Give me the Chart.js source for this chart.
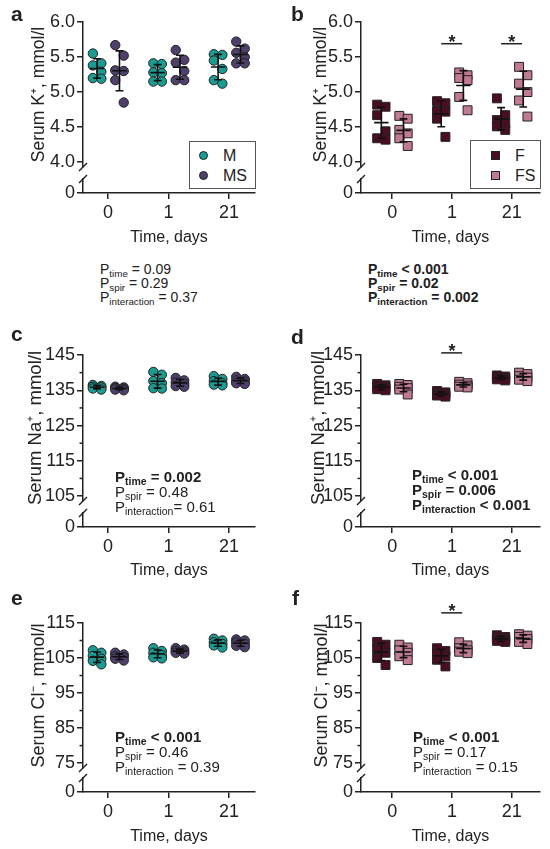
<!DOCTYPE html>
<html>
<head>
<meta charset="utf-8">
<script src="https://cdn.jsdelivr.net/npm/chart.js@4.4.1/dist/chart.umd.min.js"></script>
<style>
  body { margin: 0; background: #fff; font-family: 'Liberation Sans', Arial, sans-serif; color: #222; }
  #fig { position: relative; width: 550px; height: 849px; overflow: hidden; }
  canvas { position: absolute; }
  .lab { position: absolute; font-weight: bold; font-size: 21px; line-height: 21px; }
  .pv { position: absolute; white-space: nowrap; }
  .pv div { height: 1em; }
  .pv sub { font-size: 70%; vertical-align: -0.3em; line-height: 0; }
  .b { font-weight: bold; }
  .leg { position: absolute; border: 1px solid #555; background: #fff; font-size: 16px; }
  .leg span { position: absolute; line-height: 16px; }
  .mk { position: absolute; width: 7px; height: 7px; border: 1px solid #222; }
</style>
</head>
<body>
<div id="fig">
  <canvas id="ca" width="275" height="250" style="left:0;top:0"></canvas>
  <canvas id="cb" width="275" height="250" style="left:275px;top:0"></canvas>
  <canvas id="cc" width="275" height="262" style="left:0;top:320px"></canvas>
  <canvas id="cd" width="275" height="262" style="left:275px;top:320px"></canvas>
  <canvas id="ce" width="275" height="279" style="left:0;top:570px"></canvas>
  <canvas id="cf" width="275" height="279" style="left:275px;top:570px"></canvas>

  <div class="lab" style="left:11px;top:3px">a</div>
  <div class="lab" style="left:291px;top:3px">b</div>
  <div class="lab" style="left:11px;top:323px">c</div>
  <div class="lab" style="left:291px;top:326px">d</div>
  <div class="lab" style="left:11px;top:587px">e</div>
  <div class="lab" style="left:292px;top:587px">f</div>

  <div class="leg" style="left:189px;top:141px;width:65px;height:46px">
    <div class="mk" style="left:9px;top:9px;border-radius:50%;background:#1b9c93"></div><span style="left:33px;top:6px">M</span>
    <div class="mk" style="left:9px;top:29px;border-radius:50%;background:#4f3f6b"></div><span style="left:33px;top:26px">MS</span>
  </div>
  <div class="leg" style="left:470px;top:140px;width:69px;height:47px">
    <div class="mk" style="left:20px;top:10px;background:#4a0d22"></div><span style="left:44px;top:7px">F</span>
    <div class="mk" style="left:20px;top:30px;background:#c07a92"></div><span style="left:44px;top:27px">FS</span>
  </div>

  <div class="pv" style="left:100px;top:262px;font-size:14px;line-height:15px">
    <div>P<sub>time</sub> = 0.09</div>
    <div>P<sub>spir</sub> = 0.29</div>
    <div>P<sub>interaction</sub> = 0.37</div>
  </div>
  <div class="pv b" style="left:368px;top:262px;font-size:14px;line-height:15px">
    <div>P<sub>time</sub> &lt; 0.001</div>
    <div>P<sub>spir</sub> = 0.02</div>
    <div>P<sub>interaction</sub> = 0.002</div>
  </div>
  <div class="pv" style="left:115px;top:468px;font-size:15px;line-height:18px">
    <div class="b">P<sub>time</sub> = 0.002</div>
    <div>P<sub>spir</sub> = 0.48</div>
    <div>P<sub>interaction</sub>= 0.61</div>
  </div>
  <div class="pv b" style="left:412px;top:466px;font-size:15px;line-height:18px">
    <div>P<sub>time</sub> &lt; 0.001</div>
    <div>P<sub>spir</sub> = 0.006</div>
    <div>P<sub>interaction</sub> &lt; 0.001</div>
  </div>
  <div class="pv" style="left:115px;top:728px;font-size:15px;line-height:18px">
    <div class="b">P<sub>time</sub> &lt; 0.001</div>
    <div>P<sub>spir</sub> = 0.46</div>
    <div>P<sub>interaction</sub> = 0.39</div>
  </div>
  <div class="pv" style="left:413px;top:728px;font-size:15px;line-height:18px">
    <div class="b">P<sub>time</sub> &lt; 0.001</div>
    <div>P<sub>spir</sub> = 0.17</div>
    <div>P<sub>interaction</sub> = 0.15</div>
  </div>
</div>

<script>
const days = ['0', '1', '21'];

// serum K+, mmol/l - one array per group and day
const kM0 = [5.55, 5.41, 5.38, 5.29, 5.20, 5.19];
const kM1 = [5.41, 5.40, 5.28, 5.27, 5.15, 5.15];
const kM21 = [5.54, 5.53, 5.45, 5.33, 5.17, 5.12];
const kMS0 = [5.67, 5.52, 5.31, 5.30, 5.17, 4.85];
const kMS1 = [5.60, 5.46, 5.42, 5.30, 5.17, 5.17];
const kMS21 = [5.72, 5.62, 5.56, 5.50, 5.41, 5.41];
const kF0 = [4.82, 4.79, 4.67, 4.44, 4.34, 4.32];
const kF1 = [4.87, 4.84, 4.73, 4.72, 4.62, 4.36];
const kF21 = [4.91, 4.67, 4.60, 4.55, 4.51, 4.46];
const kFS0 = [4.66, 4.62, 4.46, 4.41, 4.34, 4.23];
const kFS1 = [5.28, 5.24, 5.20, 5.17, 4.93, 4.74];
const kFS21 = [5.36, 5.24, 5.12, 5.00, 4.88, 4.65];

// serum Na+, mmol/l
const naM0 = [136.5, 136.2, 136.0, 135.8, 135.5, 135.2];
const naM1 = [140.2, 139.4, 137.6, 137.0, 135.6, 135.5];
const naM21 = [139.0, 138.2, 137.6, 137.0, 136.6, 136.4];
const naMS0 = [136.0, 135.8, 135.6, 135.4, 135.2, 135.0];
const naMS1 = [138.5, 137.8, 137.2, 136.8, 136.2, 136.0];
const naMS21 = [138.8, 138.2, 137.8, 137.5, 137.0, 136.8];
const naF0 = [136.8, 136.4, 136.0, 135.6, 135.3, 135.0];
const naF1 = [134.8, 134.4, 134.0, 133.8, 133.5, 133.2];
const naF21 = [139.2, 138.9, 138.6, 138.3, 138.1, 137.8];
const naFS0 = [136.8, 136.5, 136.0, 135.6, 135.2, 133.8];
const naFS1 = [137.4, 137.0, 136.6, 136.3, 136.0, 135.8];
const naFS21 = [140.0, 139.6, 139.0, 138.6, 138.0, 137.6];

// serum Cl-, mmol/l
const clM0 = [107.2, 106.5, 105.6, 104.8, 104.2, 103.2];
const clM1 = [107.8, 107.0, 106.5, 105.8, 105.2, 104.9];
const clM21 = [110.5, 110.0, 109.5, 109.0, 108.6, 108.0];
const clMS0 = [106.5, 106.0, 105.5, 105.2, 104.8, 104.3];
const clMS1 = [107.8, 107.4, 107.0, 106.8, 106.5, 106.3];
const clMS21 = [110.3, 110.0, 109.5, 109.0, 108.5, 108.1];
const clF0 = [109.6, 108.8, 107.5, 106.5, 105.0, 103.0];
const clF1 = [107.8, 107.0, 106.2, 105.5, 104.5, 102.6];
const clF21 = [111.5, 111.0, 110.6, 110.2, 109.9, 109.6];
const clFS0 = [108.8, 108.0, 107.2, 106.5, 105.5, 104.4];
const clFS1 = [109.5, 108.6, 107.8, 107.2, 106.8, 106.4];
const clFS21 = [111.8, 111.4, 111.0, 110.4, 109.6, 109.0];

// axis ticks
const kTicks = [4.0, 4.5, 5.0, 5.5, 6.0];
const naTicks = [105, 115, 125, 135, 145];
const naMinor = [110, 120, 130, 140];
const clTicks = [75, 85, 95, 105, 115];
const clMinor = [80, 90, 100, 110];

// significant day indexes (*) per panel
const sigB = [1, 2];
const sigD = [1];
const sigF = [1];

const INK = '#222';
const FONT = "'Liberation Sans', Arial, sans-serif";
Chart.defaults.font.family = FONT;
Chart.defaults.color = INK;

function meanSd(a) {
  const m = a.reduce((s, v) => s + v, 0) / a.length;
  const sd = Math.sqrt(a.reduce((s, v) => s + (v - m) * (v - m), 0) / (a.length - 1));
  return [m, sd];
}

function pointsOf(series, off) {
  const pts = [];
  series.forEach((arr, d) => arr.forEach((v, i) => {
    pts.push({x: d + off + (i % 2 ? 1 : -1) * 0.07, y: v});
  }));
  return pts;
}

// mean line + SD whiskers, gaps split the segments
function barsOf(series, off) {
  const pts = [];
  series.forEach((arr, d) => {
    const [m, sd] = meanSd(arr);
    const c = d + off;
    pts.push({x: c - 0.12, y: m}, {x: c + 0.12, y: m}, {x: c, y: null},
      {x: c, y: m - sd}, {x: c, y: m + sd}, {x: c, y: null},
      {x: c - 0.065, y: m + sd}, {x: c + 0.065, y: m + sd}, {x: c, y: null},
      {x: c - 0.065, y: m - sd}, {x: c + 0.065, y: m - sd}, {x: c, y: null});
  });
  return pts;
}

const breaks = {
  id: 'breaks',
  afterDraw(chart, args, opts) {
    const ctx = chart.ctx;
    const yu = chart.scales.y, yb = chart.scales.yb, xs = chart.scales.x;
    const x = chart.chartArea.left;
    ctx.save();
    ctx.strokeStyle = INK;
    ctx.lineWidth = 1.5;
    [yu.bottom, yb.top].forEach(py => {
      ctx.beginPath();
      ctx.moveTo(x - 4, py + 4);
      ctx.lineTo(x + 4, py - 4);
      ctx.stroke();
    });
    (opts.minor || []).forEach(v => {
      const py = yu.getPixelForValue(v);
      ctx.beginPath();
      ctx.moveTo(x, py);
      ctx.lineTo(x - 3.5, py);
      ctx.stroke();
    });
    ctx.fillStyle = INK;
    ctx.font = 'bold 18px ' + FONT;
    ctx.textAlign = 'center';
    (opts.sig || []).forEach(d => {
      const py = yu.getPixelForValue(opts.sigY);
      ctx.beginPath();
      ctx.moveTo(xs.getPixelForValue(d - 0.18), py);
      ctx.lineTo(xs.getPixelForValue(d + 0.17), py);
      ctx.stroke();
      ctx.fillText('*', xs.getPixelForValue(d), py + 4);
    });
    ctx.restore();
  }
};

function makePanel(p) {
  const H = p.h, W = 275;
  const chartH = p.bottom - p.top;
  const lowerPx = 14;
  const upperPx = chartH - lowerPx - p.gap;
  const tickFont = {size: 18};
  const axisGrid = {display: true, drawOnChartArea: false, drawTicks: true, tickLength: 6, color: INK, lineWidth: 1.5};
  const axisBorder = {display: true, color: INK, width: 1.5};
  const fixW = s => { s.width = p.axisX; };

  const datasets = [];
  p.groups.forEach(g => {
    datasets.push({
      data: pointsOf(g.series, g.off),
      pointStyle: g.style,
      pointRadius: g.style === 'rect' ? 6.3 : 4.7,
      pointHoverRadius: g.style === 'rect' ? 6.3 : 4.7,
      backgroundColor: g.color,
      borderColor: INK,
      borderWidth: 1,
      yAxisID: 'y',
      order: 2
    });
    datasets.push({
      data: barsOf(g.series, g.off),
      showLine: true,
      spanGaps: false,
      pointRadius: 0,
      pointHoverRadius: 0,
      borderColor: '#111',
      borderWidth: 1.6,
      yAxisID: 'y',
      order: 1
    });
  });

  // stacked left axes are laid out last-defined on top: bottom piece first
  return new Chart(document.getElementById(p.id), {
    type: 'scatter',
    data: {datasets},
    plugins: [breaks],
    options: {
      responsive: false,
      animation: false,
      layout: {padding: {top: p.top, right: W - p.rightEnd, bottom: 0, left: 0}},
      plugins: {
        legend: {display: false},
        tooltip: {enabled: false},
        breaks: {minor: p.minor, sig: p.sig, sigY: p.sigY}
      },
      scales: {
        x: {
          type: 'linear',
          position: 'bottom',
          min: p.xMin,
          max: p.xMax,
          afterBuildTicks: s => { s.ticks = days.map((d, i) => ({value: i})); },
          ticks: {callback: v => days[v], font: tickFont, padding: 3, autoSkip: false, maxRotation: 0},
          grid: axisGrid,
          border: axisBorder,
          title: {display: true, text: 'Time, days', font: {size: 16}, padding: {top: 0, bottom: p.xtPad}},
          afterFit: s => { s.height = H - p.bottom; }
        },
        yb: {
          type: 'linear',
          position: 'left',
          stack: 'v',
          stackWeight: lowerPx,
          min: 0,
          max: 1,
          afterBuildTicks: s => { s.ticks = [{value: 0}]; },
          ticks: {callback: v => String(v), font: tickFont, padding: 2, autoSkip: false},
          grid: axisGrid,
          border: axisBorder,
          afterFit: fixW
        },
        yg: {
          type: 'linear',
          position: 'left',
          stack: 'v',
          stackWeight: p.gap,
          min: 0,
          max: 1,
          ticks: {display: false},
          grid: {display: false},
          border: {display: false},
          afterFit: fixW
        },
        y: {
          type: 'linear',
          position: 'left',
          stack: 'v',
          stackWeight: upperPx,
          min: p.yMin,
          max: p.yMax,
          afterBuildTicks: s => { s.ticks = p.ticks.map(v => ({value: v})); },
          ticks: {callback: p.fmt, font: tickFont, padding: 2, autoSkip: false},
          grid: axisGrid,
          border: axisBorder,
          title: {display: true, text: p.yTitle, font: {size: p.ytSize}, padding: {top: p.ytPad, bottom: 0}},
          afterFit: fixW
        }
      }
    }
  });
}

const colM = '#1b9c93', colMS = '#4f3f6b', colF = '#4a0d22', colFS = '#c07a92';
const fmt1 = v => v.toFixed(1);
const fmt0 = v => String(v);
const left = {axisX: 83, rightEnd: 255, xMin: -0.413, xMax: 2.43};
const right = {axisX: 86, rightEnd: 265, xMin: -0.52, xMax: 2.47};

const male = (a, b) => [
  {series: a, off: -0.18, color: colM, style: 'circle'},
  {series: b, off: 0.19, color: colMS, style: 'circle'}
];
const female = (a, b) => [
  {series: a, off: -0.18, color: colF, style: 'rect'},
  {series: b, off: 0.19, color: colFS, style: 'rect'}
];

makePanel(Object.assign({id: 'ca', h: 250, top: 22, bottom: 193, gap: 12, yMin: 3.93, yMax: 6.0,
  ticks: kTicks, fmt: fmt1, yTitle: 'Serum K\u207A, mmol/l', ytSize: 17.5, ytPad: 29, xtPad: 2.4,
  groups: male([kM0, kM1, kM21], [kMS0, kMS1, kMS21])}, left));
makePanel(Object.assign({id: 'cb', h: 250, top: 22, bottom: 193, gap: 12, yMin: 3.93, yMax: 6.0,
  ticks: kTicks, fmt: fmt1, yTitle: 'Serum K\u207A, mmol/l', ytSize: 17.5, ytPad: 36, xtPad: 2.4,
  sig: sigB, sigY: 5.69,
  groups: female([kF0, kF1, kF21], [kFS0, kFS1, kFS21])}, right));
makePanel(Object.assign({id: 'cc', h: 262, top: 35, bottom: 207, gap: 12, yMin: 103.6, yMax: 145,
  ticks: naTicks, minor: naMinor, fmt: fmt0, yTitle: 'Serum Na\u207A, mmol/l', ytSize: 18.5, ytPad: 25, xtPad: 1.4,
  groups: male([naM0, naM1, naM21], [naMS0, naMS1, naMS21])}, left));
makePanel(Object.assign({id: 'cd', h: 262, top: 35, bottom: 207, gap: 12, yMin: 103.6, yMax: 145,
  ticks: naTicks, minor: naMinor, fmt: fmt0, yTitle: 'Serum Na\u207A, mmol/l', ytSize: 18.5, ytPad: 33, xtPad: 1.4,
  sig: sigD, sigY: 145.6,
  groups: female([naF0, naF1, naF21], [naFS0, naFS1, naFS21])}, right));
makePanel(Object.assign({id: 'ce', h: 279, top: 53, bottom: 222, gap: 10, yMin: 73.6, yMax: 115,
  ticks: clTicks, minor: clMinor, fmt: fmt0, yTitle: 'Serum Cl\u207B, mmol/l', ytSize: 18, ytPad: 28, xtPad: 2.4,
  groups: male([clM0, clM1, clM21], [clMS0, clMS1, clMS21])}, left));
makePanel(Object.assign({id: 'cf', h: 279, top: 53, bottom: 222, gap: 10, yMin: 73.6, yMax: 115,
  ticks: clTicks, minor: clMinor, fmt: fmt0, yTitle: 'Serum Cl\u207B, mmol/l', ytSize: 18, ytPad: 36, xtPad: 2.4,
  sig: sigF, sigY: 117.9,
  groups: female([clF0, clF1, clF21], [clFS0, clFS1, clFS21])}, right));
</script>
</body>
</html>
